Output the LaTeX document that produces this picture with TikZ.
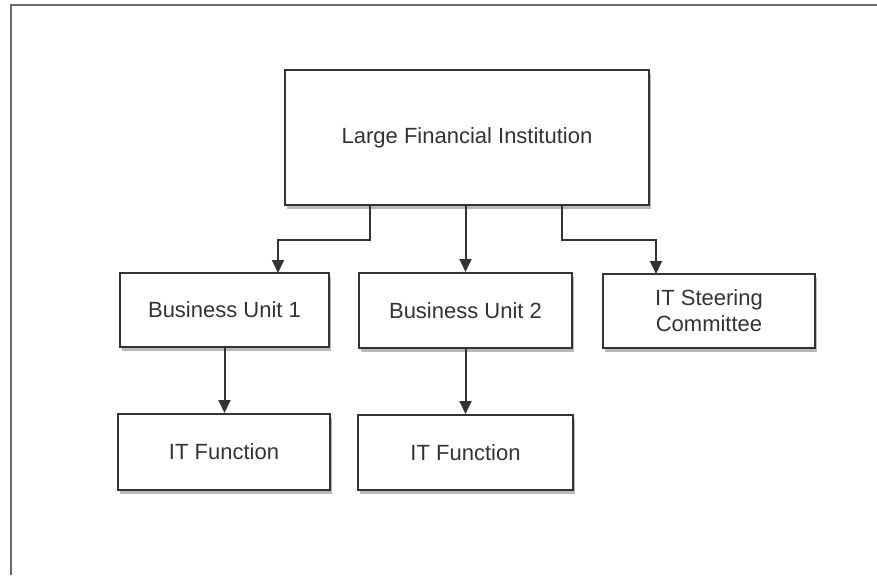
\documentclass[tikz,border=0pt]{standalone}
\usepackage{fontspec}
\setmainfont{Liberation Sans}
\usetikzlibrary{arrows.meta,shadows,positioning}

\definecolor{ink}{HTML}{333333}
\definecolor{frameline}{HTML}{6A6A6A}

\tikzset{
  orgbox/.style={draw=ink, line width=2pt, fill=white, inner sep=0pt,
    align=center, text=ink, font=\fontsize{22}{26}\selectfont,
    drop shadow={shadow xshift=2pt, shadow yshift=-4pt, opacity=0.5, fill=black!55}},
  link/.style={draw=ink, line width=2pt, -{Triangle[length=13pt,width=12pt]}},
  frame/.style={draw=frameline, line width=2pt}
}

\begin{document}
\begin{tikzpicture}[x=1pt,y=-1pt]
  \useasboundingbox (0,0) rectangle (877,575);

  % page frame (top and left edges only)
  \draw[frame] (877,5) -- (11,5) -- (11,575);

  % boxes, positioned by their centres
  \node[orgbox, minimum width=364pt, minimum height=135pt] (lfi) at (467,137.5) {\raisebox{-3pt}{Large Financial Institution}};
  \node[orgbox, minimum width=209pt, minimum height=74pt] (bu1) at (224.5,310) {Business Unit 1};
  \node[orgbox, minimum width=213pt, minimum height=75pt] (bu2) at (465.5,310.5) {Business Unit 2};
  \node[orgbox, minimum width=212pt, minimum height=74pt] (itsc) at (709,311) {IT Steering\\Committee};
  \node[orgbox, minimum width=212pt, minimum height=76pt] (itf1) at (224,452) {IT Function};
  \node[orgbox, minimum width=215pt, minimum height=75pt] (itf2) at (465.5,452.5) {IT Function};

  % elbow points of the side branches
  \coordinate (lfiL) at (370,205);
  \coordinate (lfiR) at (562,205);
  \coordinate (bu1in) at (278,273);
  \coordinate (itscin) at (656,274);

  \draw[link] (lfiL) |- (278,240) -- (bu1in);
  \draw[link] (lfi.south -| bu2.north) -- (bu2.north);
  \draw[link] (lfiR) |- (656,240) -- (itscin);

  \draw[link] (bu1.south) -- (itf1.north -| bu1.south);
  \draw[link] (bu2.south) -- (itf2.north -| bu2.south);
\end{tikzpicture}
\end{document}
